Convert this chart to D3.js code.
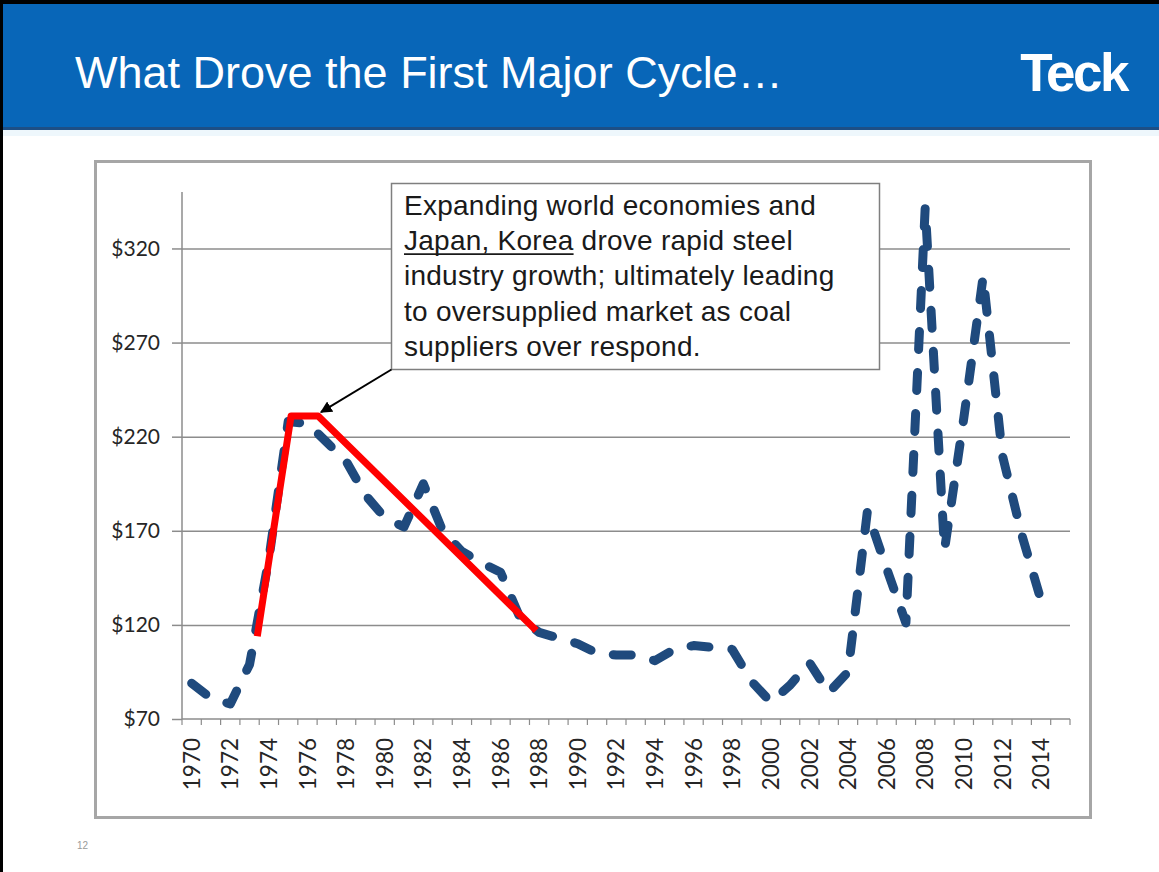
<!DOCTYPE html>
<html>
<head>
<meta charset="utf-8">
<script src="https://cdn.jsdelivr.net/npm/d3@7/dist/d3.min.js"></script>
<style>
  html, body { margin: 0; padding: 0; background: #fff; }
  svg { display: block; }
</style>
</head>
<body>
<script>
// ---------- data ----------
const categories = [1970,1971,1972,1973,1974,1975,1976,1977,1978,1979,
  1980,1981,1982,1983,1984,1985,1986,1987,1988,1989,
  1990,1991,1992,1993,1994,1995,1996,1997,1998,1999,
  2000,2001,2002,2003,2004,2005,2006,2007,2008,2009,
  2010,2011,2012,2013,2014,2015];
const seriesYears = categories.slice(0, 45); // 1970..2014 have values
const coalPrice = [89,81,78,99,155,228,227,217,207,189,
  177,172,195,170,159,153,148,124,116,113,
  110,105,104,104,101,107,109,108,107,90,
  79,88,100,84,95,180,150,121,342,160,
  230,305,210,168,133];
const xLabels = ["1970","1972","1974","1976","1978","1980","1982","1984","1986","1988",
  "1990","1992","1994","1996","1998","2000","2002","2004","2006","2008","2010","2012","2014"];
const yTicks = [70,120,170,220,270,320];
const yDomain = [70, 350];
// red trend overlay (year position, value)
const trendYears = [1973.4, 1975.15, 1976.55, 1987.85];
const trendValues = [114, 231, 231, 117];
const titleText = "What Drove the First Major Cycle…";
const logoText = "Teck";
const noteLines = [
  [{t:"Expanding world economies and"}],
  [{t:"Japan, Korea", u:true},{t:" drove rapid steel"}],
  [{t:"industry growth; ultimately leading"}],
  [{t:"to oversupplied market as coal"}],
  [{t:"suppliers over respond."}]
];
const pageNumber = "12";

// ---------- layout ----------
const W = 1159, H = 872;
const plot = {left: 182, right: 1070, top: 192, bottom: 719};

const svg = d3.select("body").append("svg").attr("width", W).attr("height", H);

// slide background & borders
svg.append("rect").attr("x",0).attr("y",0).attr("width",W).attr("height",H).attr("fill","#fff");
svg.append("rect").attr("x",0).attr("y",0).attr("width",W).attr("height",130).attr("fill","#0866b8");
svg.append("rect").attr("x",0).attr("y",127).attr("width",W).attr("height",3).attr("fill","#1d4f86");
svg.append("rect").attr("x",0).attr("y",130).attr("width",W).attr("height",6).attr("fill","#eef7fc");
svg.append("rect").attr("x",0).attr("y",0).attr("width",W).attr("height",4).attr("fill","#000");
svg.append("rect").attr("x",0).attr("y",0).attr("width",3).attr("height",H).attr("fill","#000");

svg.append("text").attr("x",75).attr("y",88)
  .attr("font-family","Liberation Sans, Arial, sans-serif").attr("font-size",45)
  .attr("fill","#fff").text(titleText);
svg.append("text").attr("x",1127).attr("y",91).attr("text-anchor","end")
  .attr("font-family","Liberation Sans, Arial, sans-serif").attr("font-size",53)
  .attr("font-weight","bold").attr("letter-spacing",-2.5)
  .attr("fill","#fff").text(logoText);

svg.append("text").attr("x",77).attr("y",849)
  .attr("font-family","Liberation Sans, Arial, sans-serif").attr("font-size",10)
  .attr("fill","#9a9a9a").text(pageNumber);

// chart frame
svg.append("rect").attr("x",95.5).attr("y",161.5).attr("width",995).attr("height",656)
  .attr("fill","#fff").attr("stroke","#a6a6a6").attr("stroke-width",3);

// ---------- scales ----------
const x = d3.scaleBand().domain(categories).range([plot.left, plot.right]).padding(0);
const bw = x.bandwidth();
const xc = d => x(d) + bw/2;
const xPos = d3.scaleLinear().domain([categories[0], categories[categories.length-1]])
  .range([xc(categories[0]), xc(categories[categories.length-1])]);
const y = d3.scaleLinear().domain(yDomain).range([plot.bottom, plot.top]);

const labelFont = "Lato, 'Open Sans', sans-serif";

// gridlines (through axis)
const grid = svg.append("g").attr("transform",`translate(${plot.left},0)`)
  .call(d3.axisLeft(y).tickValues(yTicks.slice(1)).tickSize(-(plot.right-plot.left)).tickFormat(""));
grid.select(".domain").remove();
grid.selectAll("line").attr("stroke","#8c8c8c").attr("stroke-width",1.5);

// y axis
const yAxis = svg.append("g").attr("transform",`translate(${plot.left},0)`)
  .call(d3.axisLeft(y).tickValues(yTicks).tickSize(10).tickPadding(12).tickFormat(d => "$" + d));
yAxis.select(".domain").attr("stroke","#8c8c8c").attr("stroke-width",1.5)
  .attr("d", `M0,${plot.top}V${plot.bottom}`);
yAxis.selectAll("line").attr("stroke","#8c8c8c").attr("stroke-width",1.5);
yAxis.selectAll("text").attr("font-family",labelFont).attr("font-size",21).attr("fill","#262626");

// x axis
const xAxis = svg.append("g").attr("transform",`translate(0,${plot.bottom})`)
  .call(d3.axisBottom(x).tickValues(xLabels.map(Number)).tickSize(0).tickPadding(0));
xAxis.select(".domain").attr("stroke","#8c8c8c").attr("stroke-width",1.5)
  .attr("d", `M${plot.left},0H${plot.right}`);
xAxis.selectAll("text")
  .attr("font-family",labelFont).attr("font-size",22.5).attr("fill","#262626")
  .attr("text-anchor","end").attr("dy","0.36em")
  .attr("transform","translate(0,19) rotate(-90)")
  .attr("x",0).attr("y",0);
// tick marks at category boundaries
const boundaries = categories.map(c => x(c)).concat([plot.right]);
xAxis.selectAll(".bt").data(boundaries).join("line").attr("class","bt")
  .attr("x1",d=>d).attr("x2",d=>d).attr("y1",0).attr("y2",6)
  .attr("stroke","#8c8c8c").attr("stroke-width",1.2);

// ---------- blue series ----------
const pts = seriesYears.map((yr,i) => [xc(yr), y(coalPrice[i])]);
svg.append("path").attr("d", d3.line()(pts))
  .attr("fill","none").attr("stroke","#1f4a7d").attr("stroke-width",9)
  .attr("stroke-dasharray","18 23").attr("stroke-linecap","round").attr("stroke-linejoin","round");

// ---------- red overlay ----------
const rpts = trendYears.map((yr,i) => [xPos(yr), y(trendValues[i])]);
svg.append("path").attr("d", d3.line()(rpts))
  .attr("fill","none").attr("stroke","#ff0000").attr("stroke-width",7)
  .attr("stroke-linejoin","round").attr("stroke-linecap","butt");

// ---------- annotation ----------
const box = {x: 391.5, y: 183.5, w: 488, h: 186};
svg.append("rect").attr("x",box.x).attr("y",box.y).attr("width",box.w).attr("height",box.h)
  .attr("fill","#fff").attr("stroke","#7f7f7f").attr("stroke-width",1.5);

const note = svg.append("text")
  .attr("font-family","Liberation Sans, Arial, sans-serif").attr("font-size",28)
  .attr("letter-spacing",0.25).attr("fill","#1a1a1a")
  .attr("style","white-space: pre");
const underlines = [];
noteLines.forEach((line, i) => {
  line.forEach((seg, j) => {
    const ts = note.append("tspan").text(seg.t);
    if (j === 0) ts.attr("x", 404).attr("y", 215 + i*35.2);
    if (seg.u) underlines.push({node: ts.node(), y: 215 + i*35.2});
  });
});
underlines.forEach(u => {
  const ext = u.node.getExtentOfChar(0);
  const len = u.node.getComputedTextLength();
  svg.append("line").attr("x1", ext.x).attr("x2", ext.x + len)
    .attr("y1", u.y + 4).attr("y2", u.y + 4)
    .attr("stroke","#1a1a1a").attr("stroke-width",1.8);
});

// arrow
const defs = svg.append("defs");
defs.append("marker").attr("id","ah").attr("viewBox","0 0 10 10").attr("refX",9).attr("refY",5)
  .attr("markerWidth",6).attr("markerHeight",6).attr("orient","auto")
  .append("path").attr("d","M0,0L10,5L0,10z").attr("fill","#000");
svg.append("line").attr("x1",box.x).attr("y1",box.y+box.h)
  .attr("x2",xPos(1976.7)).attr("y2",y(233))
  .attr("stroke","#000").attr("stroke-width",2).attr("marker-end","url(#ah)");
</script>
</body>
</html>
